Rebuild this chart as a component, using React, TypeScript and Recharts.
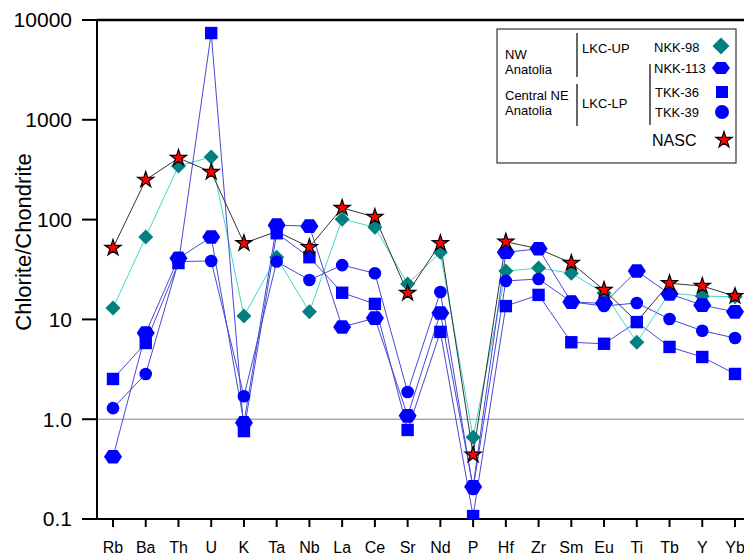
import React from 'react';
import { LineChart, Line, XAxis, YAxis, ReferenceLine } from 'recharts';

const elements = ['Rb', 'Ba', 'Th', 'U', 'K', 'Ta', 'Nb', 'La', 'Ce', 'Sr', 'Nd', 'P', 'Hf', 'Zr', 'Sm', 'Eu', 'Ti', 'Tb', 'Y', 'Yb'];
const nkk98 = [13, 67, 344, 424, 10.8, 42, 11.9, 101, 84, 22.6, 47, 0.66, 30.5, 32.7, 29, 18.4, 5.9, 18.4, 17.1, 16.9];
const nkk113 = [0.42, 7.3, 41, 67, 0.92, 88, 86, 8.4, 10.3, 1.08, 11.6, 0.21, 47, 51, 14.9, 14.5, 30.5, 18, 13.9, 11.9];
const tkk36 = [2.53, 5.8, 36.7, 7400, 0.76, 73, 42, 18.5, 14.3, 0.78, 7.5, 0.107, 13.6, 17.6, 5.9, 5.7, 9.4, 5.3, 4.2, 2.84];
const tkk39 = [1.29, 2.84, 38, 38.5, 1.7, 38, 24.8, 35, 29, 1.87, 18.8, 0.2, 24.3, 25.4, 15, 13.6, 14.6, 10.1, 7.7, 6.5];
const nasc = [52, 250, 414, 300, 58, 76, 53, 131, 106, 18.4, 58, 0.44, 60, 51, 36.7, 19.7, 9.5, 23, 21.6, 17.1];
// NASC markers that are not drawn in the source figure (line still passes through)
const nascMarkerShown = [true, true, true, true, true, false, true, true, true, true, true, true, true, false, true, true, false, true, true, true];
const yTicks = [0.1, 1, 10, 100, 1000, 10000];

const data = elements.map((el, i) => ({
  el,
  nkk98: nkk98[i],
  nkk113: nkk113[i],
  tkk36: tkk36[i],
  tkk39: tkk39[i],
  nasc: nasc[i],
}));

const FONT = '"Liberation Sans", Arial, Helvetica, sans-serif';
const BLUE = '#0000FF';
const TEAL = '#008080';

function starPts(cx: number, cy: number, R: number, r: number) {
  const pts: string[] = [];
  for (let k = 0; k < 10; k++) {
    const a = -Math.PI / 2 + (k * Math.PI) / 5;
    const rad = k % 2 === 0 ? R : r;
    pts.push(`${cx + rad * Math.cos(a)},${cy + rad * Math.sin(a)}`);
  }
  return pts.join(' ');
}

const Diamond = (cx: number, cy: number, s: number, key?: string) => (
  <polygon key={key} points={`${cx},${cy - s} ${cx + s},${cy} ${cx},${cy + s} ${cx - s},${cy}`} fill={TEAL} />
);
const Hexagon = (cx: number, cy: number, w: number, h: number, key?: string) => (
  <polygon
    key={key}
    points={`${cx - w},${cy} ${cx - w * 0.5},${cy - h} ${cx + w * 0.5},${cy - h} ${cx + w},${cy} ${cx + w * 0.5},${cy + h} ${cx - w * 0.5},${cy + h}`}
    fill={BLUE}
  />
);
const Square = (cx: number, cy: number, s: number, key?: string) => (
  <rect key={key} x={cx - s} y={cy - s} width={2 * s} height={2 * s} fill={BLUE} />
);
const Circle = (cx: number, cy: number, r: number, key?: string) => (
  <circle key={key} cx={cx} cy={cy} r={r} fill={BLUE} />
);
const Star = (cx: number, cy: number, R: number, key?: string) => (
  <polygon key={key} points={starPts(cx, cy, R, R * 0.38)} fill="#FF0000" stroke="#000" strokeWidth={1.2} strokeLinejoin="miter" />
);

const ok = (p: any) => p && p.cx != null && p.cy != null && !isNaN(p.cx) && !isNaN(p.cy);

const yFmt = (v: number) => (v === 0.1 ? '0.1' : v === 1 ? '1.0' : String(v));

export default function App() {
  return (
    <div style={{ position: 'absolute', left: 0, top: 0, width: 744, height: 556, background: '#fff', fontFamily: FONT }}>
      <LineChart width={744} height={556} data={data} margin={{ top: 20, right: 0, bottom: 0, left: 0 }}>
        <XAxis
          dataKey="el"
          interval={0}
          height={37}
          padding={{ left: 16, right: 9 }}
          axisLine={{ stroke: '#000', strokeWidth: 2 }}
          tickLine={{ stroke: '#000', strokeWidth: 2 }}
          tickSize={8}
          tickMargin={15}
          tick={{ fill: '#000', fontSize: 16, fontFamily: FONT }}
        />
        <YAxis
          type="number"
          scale="log"
          domain={[0.1, 10000]}
          allowDataOverflow
          ticks={yTicks}
          tickFormatter={yFmt}
          width={97}
          axisLine={{ stroke: '#000', strokeWidth: 2 }}
          tickLine={{ stroke: '#000', strokeWidth: 2 }}
          tickSize={15}
          tickMargin={10}
          tick={{ fill: '#000', fontSize: 21, fontFamily: FONT }}
        />
        <ReferenceLine y={1} stroke="#808080" strokeWidth={1} />
        <ReferenceLine y={10000} stroke="#000" strokeWidth={2.5} />
        <Line
          dataKey="nkk98"
          stroke="#40D8C8"
          strokeWidth={1}
          isAnimationActive={false}
          dot={(p: any) => (ok(p) ? Diamond(p.cx, p.cy, 7.5, `n98-${p.index}`) : <g key={`n98-${p.index}`} />)}
        />
        <Line
          dataKey="tkk36"
          stroke="#4848D8"
          strokeWidth={1}
          isAnimationActive={false}
          dot={(p: any) => (ok(p) ? Square(p.cx, p.cy, 6.2, `t36-${p.index}`) : <g key={`t36-${p.index}`} />)}
        />
        <Line
          dataKey="tkk39"
          stroke="#4848D8"
          strokeWidth={1}
          isAnimationActive={false}
          dot={(p: any) => (ok(p) ? Circle(p.cx, p.cy, 6.3, `t39-${p.index}`) : <g key={`t39-${p.index}`} />)}
        />
        <Line
          dataKey="nkk113"
          stroke="#4848D8"
          strokeWidth={1}
          isAnimationActive={false}
          dot={(p: any) => (ok(p) ? Hexagon(p.cx, p.cy, 9, 6.8, `n113-${p.index}`) : <g key={`n113-${p.index}`} />)}
        />
        <Line
          dataKey="nasc"
          stroke="#333"
          strokeWidth={1}
          isAnimationActive={false}
          dot={(p: any) =>
            ok(p) && nascMarkerShown[p.index] ? Star(p.cx, p.cy, 8.5, `nasc-${p.index}`) : <g key={`nasc-${p.index}`} />
          }
        />
      </LineChart>
      <svg width={744} height={556} style={{ position: 'absolute', left: 0, top: 0, pointerEvents: 'none' }}>
        <text
          x={0}
          y={0}
          transform="translate(31,242) rotate(-90)"
          textAnchor="middle"
          fontSize={22}
          fontFamily={FONT}
          fill="#000"
        >
          Chlorite/Chondrite
        </text>
        <g fontFamily={FONT} fill="#000">
          <rect x={497} y={29} width={239} height={134} fill="#fff" stroke="#333" strokeWidth={1.2} />
          <text x={505} y={59} fontSize={13}>NW</text>
          <text x={505} y={74} fontSize={13}>Anatolia</text>
          <text x={505} y={100} fontSize={13}>Central NE</text>
          <text x={505} y={115} fontSize={13}>Anatolia</text>
          <line x1={577} y1={33} x2={577} y2={77} stroke="#000" strokeWidth={1.2} />
          <line x1={577} y1={84} x2={577} y2={126} stroke="#000" strokeWidth={1.2} />
          <line x1={650} y1={64} x2={650} y2={125} stroke="#000" strokeWidth={1.2} />
          <text x={582} y={53} fontSize={13}>LKC-UP</text>
          <text x={582} y={108} fontSize={13}>LKC-LP</text>
          <text x={654} y={52} fontSize={13}>NKK-98</text>
          <text x={654} y={73} fontSize={13}>NKK-113</text>
          <text x={655} y={97} fontSize={13}>TKK-36</text>
          <text x={655} y={117} fontSize={13}>TKK-39</text>
          <text x={652} y={146} fontSize={16}>NASC</text>
          {Diamond(721, 46, 8.5)}
          {Hexagon(721, 68, 9, 6)}
          {Square(722, 92, 6)}
          {Circle(722, 112, 7)}
          {Star(724, 140, 8.5)}
        </g>
      </svg>
    </div>
  );
}
